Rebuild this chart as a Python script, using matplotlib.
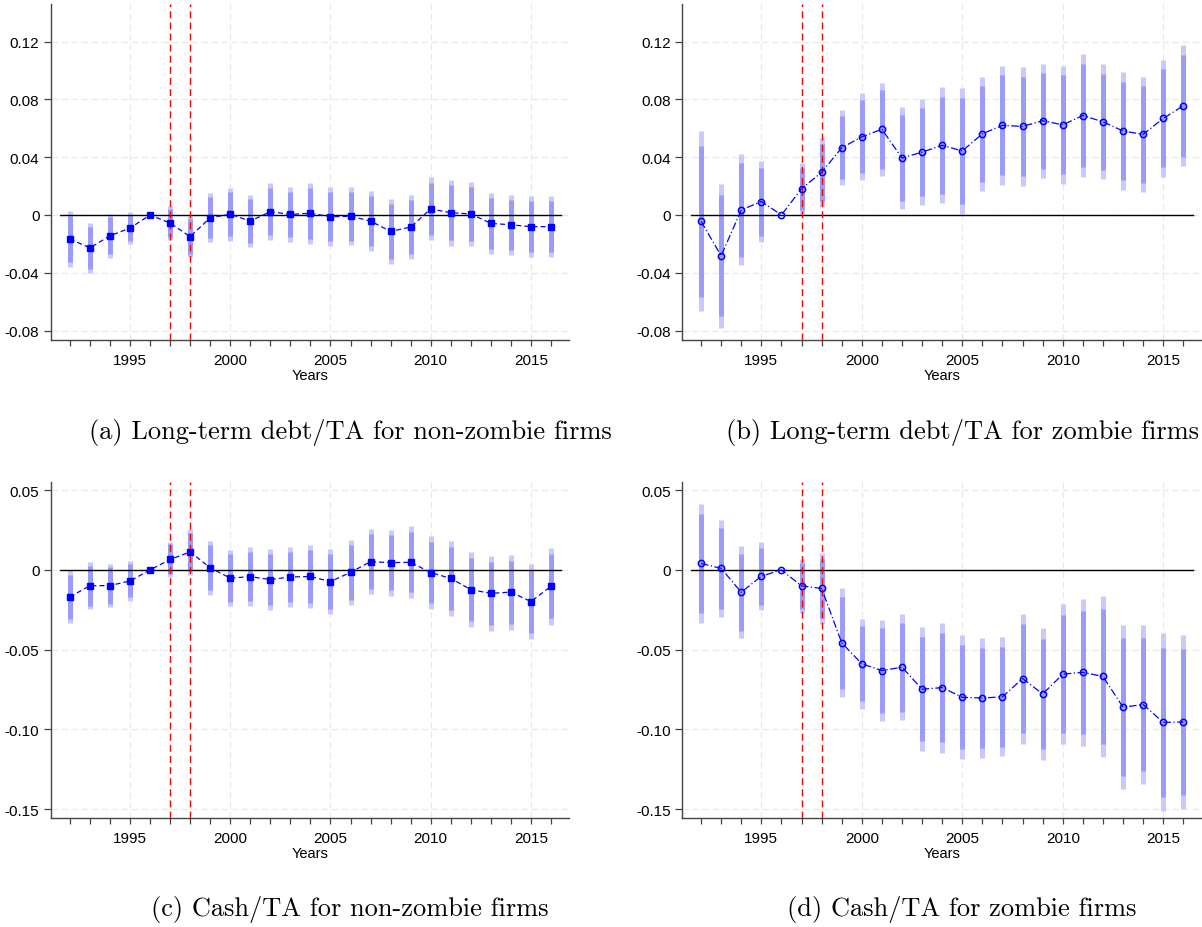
import matplotlib
matplotlib.use('Agg')
import matplotlib.pyplot as plt
import numpy as np

years = list(range(1992, 2017))

# point estimates and standard errors
ltd_nonzombie_est = [-0.0166, -0.0228, -0.0144, -0.0091, 0.0, -0.0056, -0.0150, -0.0019, 0.0005, -0.0042,
                     0.0023, 0.0004, 0.0012, -0.0012, -0.0009, -0.0042, -0.0114, -0.0084, 0.0042, 0.0016,
                     0.0007, -0.0058, -0.0068, -0.0081, -0.0081]
ltd_nonzombie_se = [0.0098, 0.0088, 0.0077, 0.0056, 0.0, 0.0059, 0.0073, 0.0087, 0.0093, 0.0093,
                    0.0100, 0.0096, 0.0107, 0.0104, 0.0102, 0.0107, 0.0115, 0.0114, 0.0111, 0.0116,
                    0.0113, 0.0107, 0.0105, 0.0108, 0.0107]

ltd_zombie_est = [-0.0044, -0.0283, 0.0035, 0.0093, 0.0, 0.0182, 0.0295, 0.0465, 0.0541, 0.0593,
                  0.0394, 0.0435, 0.0482, 0.0443, 0.0562, 0.0620, 0.0613, 0.0652, 0.0624, 0.0688,
                  0.0645, 0.0581, 0.0558, 0.0668, 0.0756]
ltd_zombie_se = [0.0318, 0.0254, 0.0196, 0.0143, 0.0, 0.0089, 0.0121, 0.0133, 0.0154, 0.0165,
                 0.0179, 0.0186, 0.0205, 0.0223, 0.0202, 0.0210, 0.0209, 0.0202, 0.0208, 0.0218,
                 0.0203, 0.0208, 0.0204, 0.0206, 0.0214]

cash_nonzombie_est = [-0.0169, -0.0099, -0.0098, -0.0069, 0.0, 0.0066, 0.0113, 0.0014, -0.0051, -0.0042,
                      -0.0060, -0.0044, -0.0041, -0.0073, -0.0015, 0.0052, 0.0046, 0.0048, -0.0016, -0.0053,
                      -0.0123, -0.0147, -0.0139, -0.0198, -0.0102]
cash_nonzombie_se = [0.0085, 0.0076, 0.0070, 0.0063, 0.0, 0.0057, 0.0074, 0.0086, 0.0090, 0.0094,
                     0.0097, 0.0095, 0.0101, 0.0104, 0.0104, 0.0105, 0.0106, 0.0115, 0.0118, 0.0121,
                     0.0121, 0.0119, 0.0120, 0.0121, 0.0123]

cash_zombie_est = [0.0041, 0.0010, -0.0140, -0.0039, 0.0, -0.0100, -0.0116, -0.0457, -0.0589, -0.0631,
                   -0.0610, -0.0748, -0.0738, -0.0799, -0.0803, -0.0796, -0.0681, -0.0778, -0.0654, -0.0642,
                   -0.0668, -0.0861, -0.0844, -0.0956, -0.0954]
cash_zombie_se = [0.0190, 0.0155, 0.0147, 0.0108, 0.0, 0.0087, 0.0114, 0.0175, 0.0143, 0.0161,
                  0.0169, 0.0198, 0.0208, 0.0198, 0.0192, 0.0190, 0.0208, 0.0211, 0.0224, 0.0235,
                  0.0258, 0.0263, 0.0254, 0.0285, 0.0278]

captions = ['(a) Long-term debt/TA for non-zombie firms',
            '(b) Long-term debt/TA for zombie firms',
            '(c) Cash/TA for non-zombie firms',
            '(d) Cash/TA for zombie firms']

ltd_yticks = [-0.08, -0.04, 0, 0.04, 0.08, 0.12]
ltd_yticklabels = ['-0.08', '-0.04', '0', '0.04', '0.08', '0.12']
cash_yticks = [-0.15, -0.10, -0.05, 0, 0.05]
cash_yticklabels = ['-0.15', '-0.10', '-0.05', '0', '0.05']
event_years = [1997, 1998]

TICK_FONT = ['Liberation Sans', 'DejaVu Sans']
CAP_FONT = ['cmr10', 'DejaVu Serif']

fig = plt.figure(figsize=(12.02, 9.28), dpi=100)

left_l, right_l = 0.0421, 0.4734
left_r, right_r = 0.5672, 0.9995
top_row = (0.6329, 0.9946)
bot_row = (0.1178, 0.4799)

panels = [
    (left_l, right_l, top_row, ltd_nonzombie_est, ltd_nonzombie_se, 'square', (-0.0863, 0.146), ltd_yticks, ltd_yticklabels),
    (left_r, right_r, top_row, ltd_zombie_est, ltd_zombie_se, 'circle', (-0.0863, 0.146), ltd_yticks, ltd_yticklabels),
    (left_l, right_l, bot_row, cash_nonzombie_est, cash_nonzombie_se, 'square', (-0.1554, 0.0554), cash_yticks, cash_yticklabels),
    (left_r, right_r, bot_row, cash_zombie_est, cash_zombie_se, 'circle', (-0.1554, 0.0554), cash_yticks, cash_yticklabels),
]

x = np.array(years)
for i, (l, r, (b, t), est, se, mk, ylim, yt, ytl) in enumerate(panels):
    ax = fig.add_axes([l, b, r - l, t - b])
    est = np.array(est)
    se = np.array(se)

    # 95% (light) and 90% (darker) confidence bars
    ax.vlines(x, est - 1.96 * se, est + 1.96 * se, colors='#c9c9fb', linewidths=3.6, capstyle='butt', zorder=2)
    ax.vlines(x, est - 1.645 * se, est + 1.645 * se, colors='#9b9bfb', linewidths=3.6, capstyle='butt', zorder=2)

    ax.plot([1991.5, 2016.5], [0, 0], color='black', lw=1.0, zorder=3)
    for ey in event_years:
        ax.axvline(ey, color='#ff0000', lw=1.0, dashes=(5, 3), zorder=3)

    if mk == 'square':
        ax.plot(x, est, color='#0000ff', lw=0.9, dashes=(4, 2.5), marker='s', markersize=5,
                markerfacecolor='#0000ff', markeredgecolor='#0000ff', zorder=4)
    else:
        ax.plot(x, est, color='#0000ff', lw=0.9, dashes=(6, 2, 1, 2), marker='o', markersize=4.5,
                markerfacecolor='none', markeredgecolor='#0000ff', markeredgewidth=1.1, zorder=4)

    ax.set_xlim(1991.04, 2016.9)
    ax.set_ylim(*ylim)
    ax.set_xticks([1995, 2000, 2005, 2010, 2015])
    ax.set_xticks(years, minor=True)
    ax.set_xticklabels(['1995', '2000', '2005', '2010', '2015'], family=TICK_FONT, fontsize=11)
    ax.set_yticks(yt)
    ax.set_yticklabels(ytl, family=TICK_FONT, fontsize=11)
    ax.tick_params(axis='x', which='both', length=4.5, width=0.9, color='#444444', pad=5)
    ax.tick_params(axis='y', length=5, width=0.9, color='#444444', pad=3)
    ax.grid(True, which='major', color='#e8e8e8', lw=0.9, dashes=(5, 3))
    ax.set_axisbelow(True)
    for s in ('top', 'right'):
        ax.spines[s].set_visible(False)
    for s in ('left', 'bottom'):
        ax.spines[s].set_color('#444444')
        ax.spines[s].set_linewidth(1.0)
    ax.set_xlabel('Years', family=TICK_FONT, fontsize=10.5, labelpad=1)

    cx = 350 / 1202 if l < 0.5 else 962 / 1202
    cy = 1 - 433 / 928 if b > 0.5 else 1 - 910 / 928
    fig.text(cx, cy, captions[i], family=CAP_FONT, fontsize=19, ha='center', va='center')

fig.savefig('out.png', dpi=100)
